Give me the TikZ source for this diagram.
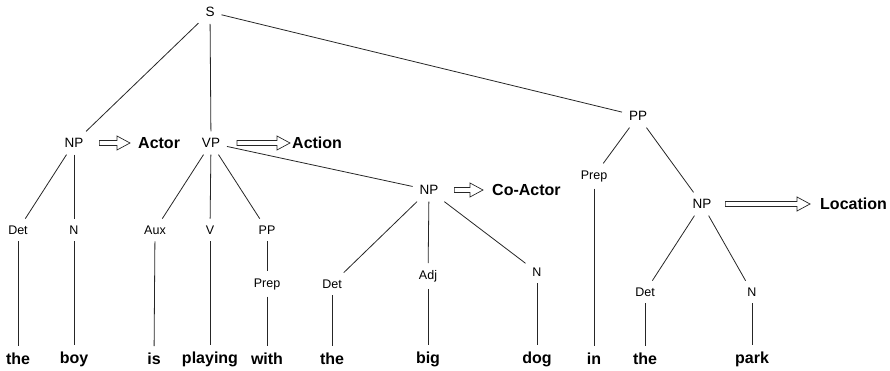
\documentclass[tikz,border=0pt]{standalone}
\usepackage{fontspec}
\setmainfont{Liberation Sans}
\usetikzlibrary{calc}

\begin{document}
\begin{tikzpicture}[
    x=1pt, y=-1pt,
    phrase/.style={font=\fontsize{13.5}{15}\selectfont, inner sep=1pt, outer sep=6pt},
    cat/.style={font=\fontsize{12.5}{14}\selectfont, inner sep=1pt, outer sep=6pt},
    word/.style={font=\fontsize{16}{18}\selectfont\bfseries, inner sep=1pt, outer sep=6pt},
    role/.style={font=\fontsize{16}{18}\selectfont\bfseries, inner sep=0pt, anchor=west},
    branch/.style={line width=.8pt, draw=black!85},
    hollow/.style={line width=.7pt, draw=black!85, to path={
        let \p1=(\tikztostart), \p2=(\tikztotarget) in
        (\x1,\y1+2.5pt) -- (\x2-13pt,\y1+2.5pt) -- (\x2-13pt,\y1+7pt) -- (\x2,\y1)
        -- (\x2-13pt,\y1-7pt) -- (\x2-13pt,\y1-2.5pt) -- (\x1,\y1-2.5pt) -- cycle}}
]
\useasboundingbox (0,0) rectangle (890,371);

% Phrases
\node[phrase] (S) at (210,12) {S};
\node[phrase] (NP1) at (74,143) {NP};
\node[phrase] (VP) at (211,143) {VP};
\node[phrase] (PP1) at (638,116) {PP};
\node[phrase] (NP2) at (429,190) {NP};
\node[phrase] (NP3) at (702,204) {NP};

% Categories
\node[cat] (Det1) at (18,230) {Det};
\node[cat] (N1) at (74,230) {N};
\node[cat] (Aux) at (155,230) {Aux};
\node[cat] (V) at (210,230) {V};
\node[cat] (PP2) at (267,230) {PP};
\node[cat] (Prep1) at (267,284) {Prep};
\node[cat] (Det2) at (332,284) {Det};
\node[cat] (Adj) at (428,276) {Adj};
\node[cat] (N2) at (537,272) {N};
\node[cat] (Prep2) at (594,176) {Prep};
\node[cat] (Det3) at (645,292) {Det};
\node[cat] (N3) at (752,292) {N};

% Words
\node[word] (the1) at (18,359) {the};
\node[word] (boy) at (74,359) {boy};
\node[word] (is) at (154,359) {is};
\node[word] (playing) at (210,359) {playing};
\node[word] (with) at (267,359) {with};
\node[word] (the2) at (332,359) {the};
\node[word] (big) at (428,359) {big};
\node[word] (dog) at (537,359) {dog};
\node[word] (in) at (594,359) {in};
\node[word] (the3) at (645,359) {the};
\node[word] (park) at (752,359) {park};

% Roles
\node[role] (Actor) at (138,143) {Actor};
\node[role] (Action) at (292,143) {Action};
\node[role] (CoActor) at (492,190) {Co-Actor};
\node[role] (Location) at (820,204) {Location};

% Branches
\draw[branch] (S) -- (NP1);
\draw[branch] (S) -- (VP);
\draw[branch] (S) -- (PP1);
\draw[branch] (NP1) -- (Det1);
\draw[branch] (NP1) -- (N1);
\draw[branch] (VP) -- (Aux);
\draw[branch] (VP) -- (V);
\draw[branch] (VP) -- (PP2);
\draw[branch] (VP) -- (NP2);
\draw[branch] (PP2) -- (Prep1);
\draw[branch] (NP2) -- (Det2);
\draw[branch] (NP2) -- (Adj);
\draw[branch] (NP2) -- (N2);
\draw[branch] (PP1) -- (Prep2);
\draw[branch] (PP1) -- (NP3);
\draw[branch] (NP3) -- (Det3);
\draw[branch] (NP3) -- (N3);

% Leaves
\draw[branch] (Det1) -- (the1);
\draw[branch] (N1) -- (boy);
\draw[branch] (Aux) -- (is);
\draw[branch] (V) -- (playing);
\draw[branch] (Prep1) -- (with);
\draw[branch] (Det2) -- (the2);
\draw[branch] (Adj) -- (big);
\draw[branch] (N2) -- (dog);
\draw[branch] (Prep2) -- (in);
\draw[branch] (Det3) -- (the3);
\draw[branch] (N3) -- (park);

% Role arrows
\draw[hollow] ([xshift=9pt]NP1.east) to ([xshift=-8pt]Actor.west);
\draw[hollow] ([xshift=10pt]VP.east) to ([xshift=-2pt]Action.west);
\draw[hollow] ([xshift=9pt]NP2.east) to ([xshift=-9pt]CoActor.west);
\draw[hollow] ([xshift=7pt]NP3.east) to ([xshift=-10pt]Location.west);

\end{tikzpicture}
\end{document}
